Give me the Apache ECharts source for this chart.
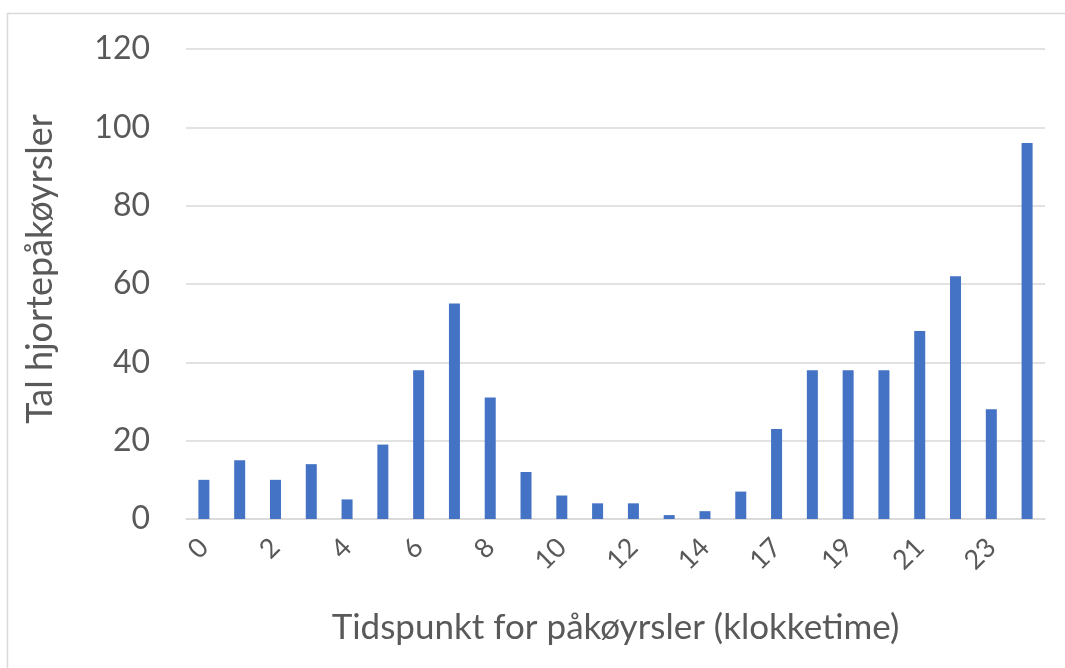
<!DOCTYPE html>
<html>
<head>
<meta charset="utf-8">
<script src="https://cdn.jsdelivr.net/npm/echarts@6/dist/echarts.min.js"></script>
<style>
  html, body { margin: 0; padding: 0; background: #ffffff; }
  #chart { width: 1065px; height: 668px; }
</style>
</head>
<body>
<div id="chart"></div>
<script>
// Hour of day (klokketime) for each bar
const hours = ['0', '1', '2', '3', '4', '5', '6', '7', '8', '9', '10', '11',
               '12', '13', '14', '15', '17', '18', '19', '20', '21', '22', '23', '24'];
// Number of deer collisions per hour
const collisions = [10, 15, 10, 14, 5, 19, 38, 55, 31, 12, 6, 4,
                    4, 1, 2, 7, 23, 38, 38, 38, 48, 62, 28, 96];
// Value axis ticks
const yTicks = [0, 20, 40, 60, 80, 100, 120];

const xTitle = 'Tidspunkt for påkøyrsler (klokketime)';
const yTitle = 'Tal hjortepåkøyrsler';

const textColor = '#595959';
const gridColor = '#d9d9d9';
const barColor = '#4472C4';
const fontFamily = 'Lato, "Open Sans", sans-serif';

const chart = echarts.init(document.getElementById('chart'), null, { renderer: 'canvas' });

chart.setOption({
  animation: false,
  backgroundColor: '#ffffff',
  grid: { left: 186, right: 20, top: 49, bottom: 149, containLabel: false },
  graphic: [
    {
      type: 'rect',
      shape: { x: 7.5, y: 13.5, width: 1070, height: 670 },
      style: { fill: 'none', stroke: '#d9d9d9', lineWidth: 1.5 },
      silent: true
    },
    {
      type: 'text',
      x: 40,
      y: 269,
      rotation: Math.PI / 2,
      style: {
        text: yTitle,
        fill: textColor,
        font: '36px ' + fontFamily,
        align: 'center',
        verticalAlign: 'middle'
      }
    }
  ],
  xAxis: {
    type: 'category',
    data: hours,
    name: xTitle,
    nameLocation: 'middle',
    nameGap: 91,
    nameTextStyle: { color: textColor, fontSize: 35, fontFamily: fontFamily },
    axisLine: { show: true, lineStyle: { color: gridColor, width: 1.5 } },
    axisTick: { show: false },
    axisLabel: {
      interval: 1,
      rotate: 45,
      margin: 24,
      color: textColor,
      fontSize: 27,
      fontFamily: fontFamily
    }
  },
  yAxis: {
    type: 'value',
    min: yTicks[0],
    max: yTicks[yTicks.length - 1],
    interval: yTicks[1] - yTicks[0],
    axisLine: { show: false },
    axisTick: { show: false },
    splitLine: { lineStyle: { color: gridColor, width: 1.5 } },
    axisLabel: {
      margin: 36,
      color: textColor,
      fontSize: 32,
      fontFamily: fontFamily
    }
  },
  series: [
    {
      type: 'bar',
      data: collisions,
      barWidth: 11,
      itemStyle: { color: barColor }
    }
  ]
});
</script>
</body>
</html>
